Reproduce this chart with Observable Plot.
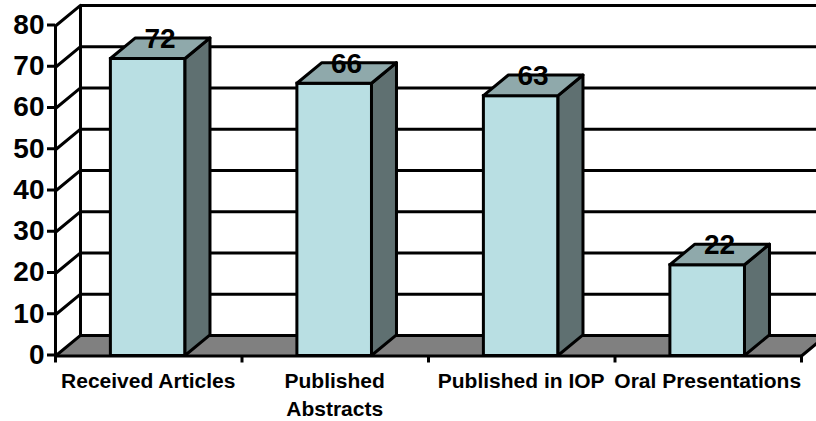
<!DOCTYPE html>
<html>
<head>
<meta charset="utf-8">
<script src="https://cdn.jsdelivr.net/npm/d3@7"></script>
<script src="https://cdn.jsdelivr.net/npm/@observablehq/plot@0.6"></script>
<style>
html,body{margin:0;padding:0;background:#fff;}
svg{display:block;}
</style>
</head>
<body>
<div id="chart"></div>
<script>
const categories = ["Received Articles", "Published\nAbstracts", "Published in IOP", "Oral Presentations"];
const values = [72, 66, 63, 22];
const yTicks = [0, 10, 20, 30, 40, 50, 60, 70, 80];
const xTicks = [0, 1, 2, 3, 4];

const depthX = 0.134;
const depthY = 5;
const barHalf = 0.2;
const yMax = 80;
const xMax = 4;
const xEnd = xMax + depthX;

const bars = values.map((v, i) => ({
  name: categories[i], v,
  c: i + 0.5 - 0.003,
  x1: i + 0.5 - 0.003 - barHalf,
  x2: i + 0.5 - 0.003 + barHalf
}));

const ink = "#000";
const sw = 3;

const floor = [
  {y: 0, x1: 0, x2: xMax},
  {y: depthY, x1: depthX, x2: xEnd}
];
const sides = bars.flatMap((b, i) => [
  {id: i, x: b.x2, y1: 0, y2: b.v},
  {id: i, x: b.x2 + depthX, y1: depthY, y2: b.v + depthY}
]);
const tops = bars.flatMap((b, i) => [
  {id: i, y: b.v, x1: b.x1, x2: b.x2},
  {id: i, y: b.v + depthY, x1: b.x1 + depthX, x2: b.x2 + depthX}
]);
const sideWall = yTicks.flatMap(t => [
  {id: t, x: 0, y: t},
  {id: t, x: depthX, y: t + depthY}
]);

const chart = Plot.plot({
  width: 816,
  height: 421,
  marginLeft: 55,
  marginRight: 15,
  marginTop: 25.5,
  marginBottom: 65.5,
  style: {fontFamily: "'Liberation Sans', Arial, sans-serif", background: "#fff", overflow: "hidden"},
  x: {type: "linear", domain: [0, xMax]},
  y: {type: "linear", domain: [0, yMax]},
  marks: [
    // floor
    Plot.areaX(floor, {y: "y", x1: "x1", x2: "x2", fill: "#808080"}),
    // back wall gridlines
    Plot.ruleY(yTicks, {y: d => d + depthY, x1: depthX, x2: xEnd, stroke: ink, strokeWidth: sw}),
    // side wall gridlines and corner
    Plot.line(sideWall, {x: "x", y: "y", z: "id", stroke: ink, strokeWidth: sw}),
    Plot.ruleX([depthX], {y1: depthY, y2: yMax + depthY, stroke: ink, strokeWidth: sw}),
    // floor right edge
    Plot.line([{x: xMax, y: 0}, {x: xEnd, y: depthY}], {x: "x", y: "y", stroke: ink, strokeWidth: sw}),
    // axes
    Plot.ruleX([0], {y1: 0, y2: yMax, stroke: ink, strokeWidth: sw}),
    Plot.ruleY([0], {x1: 0, x2: xMax, stroke: ink, strokeWidth: sw}),
    Plot.axisY({
      ticks: yTicks, tickSize: 8, tickPadding: 3, label: null,
      fontSize: 28, fontWeight: "bold", stroke: ink, strokeWidth: sw, color: ink,
      tickFormat: d => String(d), dy: -1
    }),
    Plot.axisX({
      ticks: xTicks, tickSize: 7, label: null, tickFormat: () => "",
      stroke: ink, strokeWidth: sw
    }),
    // bars
    Plot.rect(bars, {x1: "x1", x2: "x2", y1: 0, y2: "v", fill: "#B9DFE3", stroke: ink, strokeWidth: sw}),
    Plot.areaY(sides, {x: "x", y1: "y1", y2: "y2", z: "id", fill: "#5F7071", stroke: ink, strokeWidth: sw}),
    Plot.areaX(tops, {y: "y", x1: "x1", x2: "x2", z: "id", fill: "#8FA9AB", stroke: ink, strokeWidth: sw}),
    // value labels
    Plot.text(bars, {
      x: d => d.c + depthX / 2 - 0.003, y: d => d.v + depthY - 0.2, text: d => String(d.v),
      fontSize: 28, fontWeight: "bold", fill: ink, lineAnchor: "middle"
    }),
    // category labels
    Plot.text(bars, {
      x: "c", y: 0, dy: 12, text: "name", lineAnchor: "top", lineHeight: 1.33,
      fontSize: 21, fontWeight: "bold", fill: ink
    })
  ]
});
document.getElementById("chart").appendChild(chart);
</script>
</body>
</html>
